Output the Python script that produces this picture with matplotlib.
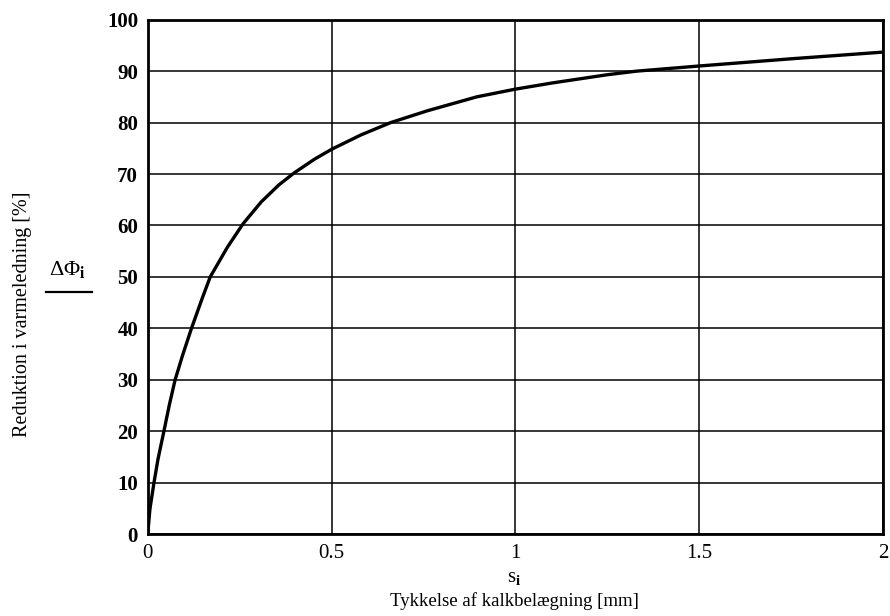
import matplotlib
matplotlib.use('Agg')
import matplotlib.pyplot as plt

# aflæste punkter fra kurven
s_mm = [0, 0.006, 0.017, 0.028, 0.044, 0.0587, 0.0745, 0.095, 0.119, 0.148,
        0.170, 0.217, 0.259, 0.309, 0.357, 0.398, 0.454, 0.5, 0.58, 0.661,
        0.761, 0.895, 1.0, 1.1, 1.25, 1.33, 1.5, 1.75, 2.0]
reduktion = [0, 4.9, 10, 14.6, 20, 25.1, 30, 34.8, 40, 45.8,
             50, 55.8, 60.3, 64.6, 67.9, 70.2, 72.9, 74.8, 77.6, 80,
             82.3, 85.0, 86.5, 87.7, 89.3, 90, 91, 92.4, 93.7]

xticks = [0, 0.5, 1, 1.5, 2]
xticklabels = ['0', '0.5', '1', '1.5', '2']
yticks = list(range(0, 101, 10))

plt.rcParams['font.family'] = ['Liberation Serif', 'DejaVu Serif']
plt.rcParams['mathtext.fontset'] = 'custom'
plt.rcParams['mathtext.rm'] = 'Liberation Serif'
plt.rcParams['mathtext.it'] = 'Liberation Serif:italic'
plt.rcParams['mathtext.bf'] = 'Liberation Serif:bold'

fig = plt.figure(figsize=(8.9, 6.16), dpi=100)
ax = fig.add_axes([0.166, 0.133, 0.826, 0.835])

ax.plot(s_mm, reduktion, color='black', lw=2.4, solid_capstyle='round',
        solid_joinstyle='round')

ax.set_xlim(0, 2)
ax.set_ylim(0, 100)
ax.set_xticks(xticks)
ax.set_xticklabels(xticklabels)
ax.set_yticks(yticks)
ax.tick_params(length=0, labelsize=15, pad=7)
for lbl in ax.get_yticklabels():
    lbl.set_fontweight('bold')
ax.grid(True, color='black', lw=1.1)
for sp in ax.spines.values():
    sp.set_linewidth(2)

# aksetitler
fig.text(0.025, 0.49, 'Reduktion i varmeledning [%]', rotation=90,
         ha='center', va='center', fontsize=14.5)
fig.text(0.076, 0.562, r'$\mathregular{\Delta\Phi_{\mathbf{i}}}$', ha='center',
         va='center', fontsize=16)
fig.add_artist(plt.Line2D([0.052, 0.103], [0.526, 0.526], color='black', lw=1.6))
fig.text(0.578, 0.062, r'$\mathregular{s_{\mathbf{i}}}$', ha='center', va='center',
         fontsize=15)
fig.text(0.578, 0.025, 'Tykkelse af kalkbelægning [mm]', ha='center', va='center',
         fontsize=13.5)

fig.savefig('out.png', dpi=100)
